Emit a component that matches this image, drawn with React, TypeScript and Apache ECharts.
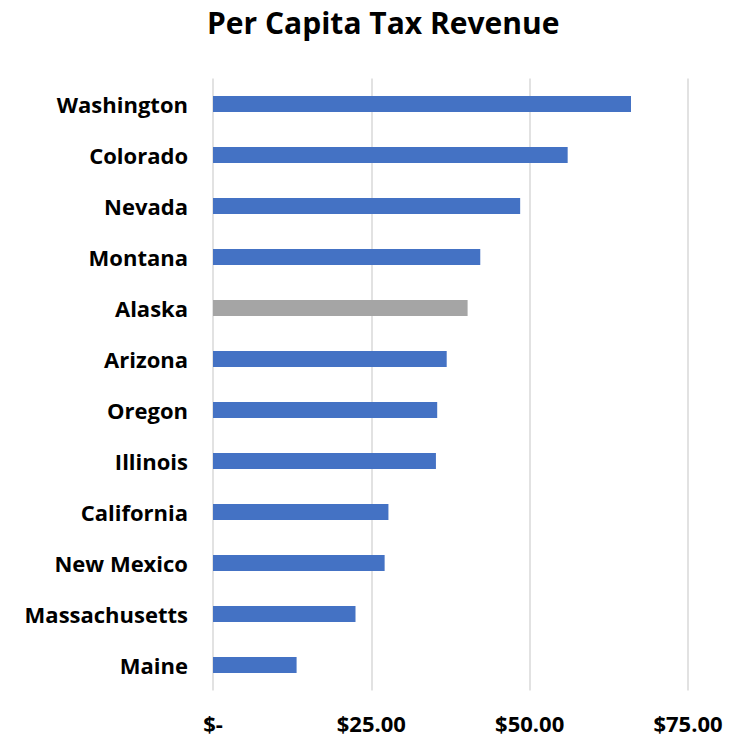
import React, { useEffect, useRef } from "react";
import * as echarts from "echarts";

const categories = [
  "Washington",
  "Colorado",
  "Nevada",
  "Montana",
  "Alaska",
  "Arizona",
  "Oregon",
  "Illinois",
  "California",
  "New Mexico",
  "Massachusetts",
  "Maine",
];
const values = [66.0, 56.0, 48.5, 42.2, 40.2, 36.9, 35.4, 35.2, 27.7, 27.1, 22.5, 13.2];
const highlight = "Alaska";
const xTicks = [0, 25, 50, 75];

export default function App() {
  const ref = useRef<HTMLDivElement>(null);
  useEffect(() => {
    document.body.style.margin = "0";
    const chart = echarts.init(ref.current!, null, { renderer: "svg" });
    const font = "Open Sans";
    chart.setOption({
      animation: false,
      backgroundColor: "#ffffff",
      title: {
        text: "Per Capita Tax Revenue",
        left: 202,
        top: 2,
        textStyle: { fontFamily: font, fontWeight: "bold", fontSize: 30, color: "#000" },
      },
      grid: { left: 213, right: 47, top: 78.5, bottom: 45.5, containLabel: false },
      xAxis: {
        type: "value",
        min: xTicks[0],
        max: xTicks[xTicks.length - 1],
        interval: 25,
        axisLine: { show: false },
        axisTick: { show: false },
        splitLine: { show: true, lineStyle: { color: "#d9d9d9", width: 1.5 } },
        axisLabel: {
          margin: 21,
          fontFamily: font,
          fontWeight: "bold",
          fontSize: 22,
          color: "#000",
          formatter: (v: number) => (v === 0 ? "$-" : "$" + v.toFixed(2)),
        },
      },
      yAxis: {
        type: "category",
        data: categories,
        inverse: true,
        axisLine: { show: false },
        axisTick: { show: false },
        axisLabel: {
          margin: 25,
          fontFamily: font,
          fontWeight: "bold",
          fontSize: 22,
          color: "#000",
        },
      },
      series: [
        {
          type: "bar",
          barWidth: 16,
          data: values.map((v, i) => ({
            value: v,
            itemStyle: { color: categories[i] === highlight ? "#A5A5A5" : "#4472C4" },
          })),
        },
      ],
    });
    return () => chart.dispose();
  }, []);
  return <div ref={ref} style={{ width: 735, height: 736 }} />;
}
